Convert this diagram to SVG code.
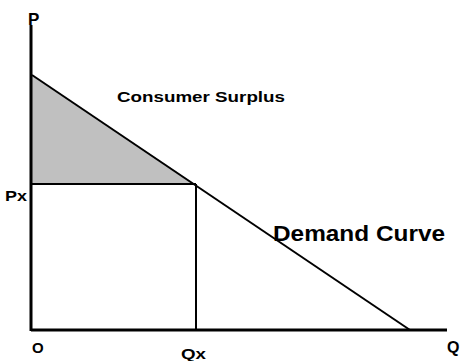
<svg xmlns="http://www.w3.org/2000/svg" width="463" height="361" viewBox="0 0 463 361">
<style>
.lbl{font-family:"Liberation Sans",Arial,sans-serif;font-weight:bold;fill:#000}
.ax{stroke:#000;stroke-width:3;fill:none}
.ln{stroke:#000;stroke-width:2;fill:none}
</style>
<rect width="463" height="361" fill="#fff"/>
<g id="surplus"><polygon points="32,75 195,184 32,184" fill="#c0c0c0"/></g>
<g id="connectors">
<line class="ln" x1="32" y1="75" x2="410" y2="330"/>
<line class="ln" x1="32" y1="184" x2="196" y2="184"/>
<line class="ln" x1="196" y1="184" x2="196" y2="330"/>
<line class="ax" x1="31" y1="25" x2="31" y2="331"/>
<line class="ax" x1="31" y1="330" x2="447" y2="330"/>
</g>
<g id="labels">
<text class="lbl" x="28" y="25" font-size="17">P</text>
<text class="lbl" x="5" y="201" font-size="14" textLength="22" lengthAdjust="spacingAndGlyphs">Px</text>
<text class="lbl" x="32" y="353" font-size="15">O</text>
<text class="lbl" x="181" y="359" font-size="14" textLength="25" lengthAdjust="spacingAndGlyphs">Qx</text>
<text class="lbl" x="447" y="353" font-size="16">Q</text>
<text class="lbl" x="117" y="102" font-size="15" textLength="168" lengthAdjust="spacingAndGlyphs">Consumer Surplus</text>
<text class="lbl" x="273" y="241" font-size="22" textLength="172" lengthAdjust="spacingAndGlyphs">Demand Curve</text>
</g>
</svg>
